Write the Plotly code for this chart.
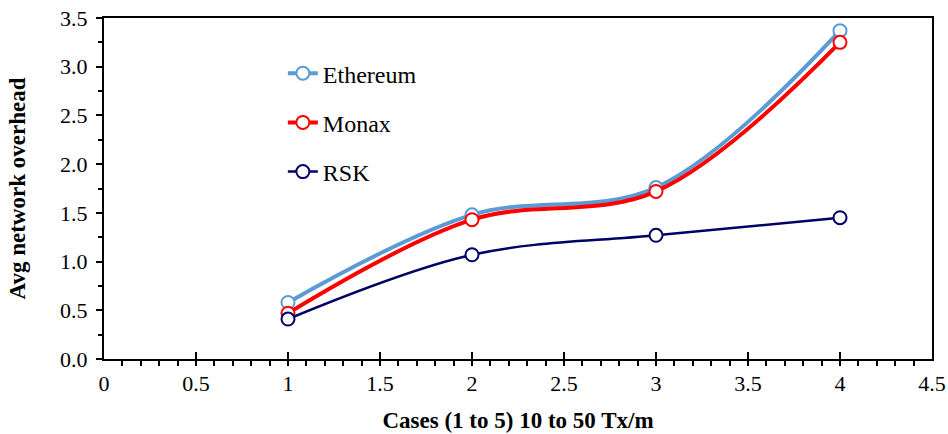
import plotly.graph_objects as go

cases = [1, 2, 3, 4]
ethereum = [0.58, 1.48, 1.76, 3.37]
monax = [0.47, 1.43, 1.72, 3.25]
rsk = [0.41, 1.07, 1.27, 1.45]

series = [
    ("Ethereum", ethereum, "#5B9BD5", 4),
    ("Monax", monax, "#FF0000", 4),
    ("RSK", rsk, "#000066", 2.5),
]

fig = go.Figure()
for i, (name, vals, color, w) in enumerate(series):
    fig.add_trace(go.Scatter(
        x=cases, y=vals, name=name, mode="lines+markers",
        line=dict(color=color, width=w, shape="spline", smoothing=1),
        marker=dict(symbol="circle", size=13, color="white",
                    line=dict(color=color, width=2)),
        legendgroup=f"g{i}",
    ))

font_family = "Times New Roman"
fig.update_layout(
    width=948, height=434,
    margin=dict(l=104, r=16, t=18, b=75),
    paper_bgcolor="white", plot_bgcolor="white",
    font=dict(family=font_family, size=22, color="black"),
    showlegend=True,
    legend=dict(x=0.216, y=0.903, xanchor="left", yanchor="top",
                font=dict(size=24, family=font_family), tracegroupgap=15,
                traceorder="grouped", bgcolor="rgba(0,0,0,0)"),
)
fig.update_xaxes(
    range=[0, 4.5], dtick=0.5, tick0=0, automargin=False,
    showline=True, linecolor="black", linewidth=2, mirror=True,
    ticks="inside", ticklen=7, tickwidth=1.5, tickcolor="black",
    minor=dict(dtick=0.1, ticks="outside", ticklen=5, tickwidth=1.5, tickcolor="black"),
    showgrid=False, zeroline=False, ticklabelstandoff=4,
    tickfont=dict(size=22, family=font_family), tickformat="~g",
    title=dict(text="<b>Cases (1 to 5) 10 to 50 Tx/m</b>",
               font=dict(size=23, family=font_family), standoff=16),
)
fig.update_yaxes(
    range=[0, 3.5], dtick=0.5, tick0=0, automargin=False,
    showline=True, linecolor="black", linewidth=2, mirror=True,
    ticks="outside", ticklen=6, tickwidth=1.5, tickcolor="black",
    minor=dict(dtick=0.25, ticks="outside", ticklen=4, tickwidth=1.5, tickcolor="black"),
    showgrid=False, zeroline=False, ticklabelstandoff=4,
    tickfont=dict(size=22, family=font_family), tickformat=".1f",
    title=dict(text="<b>Avg network overhead</b>",
               font=dict(size=23, family=font_family), standoff=28),
)
fig.write_html("out.html")
